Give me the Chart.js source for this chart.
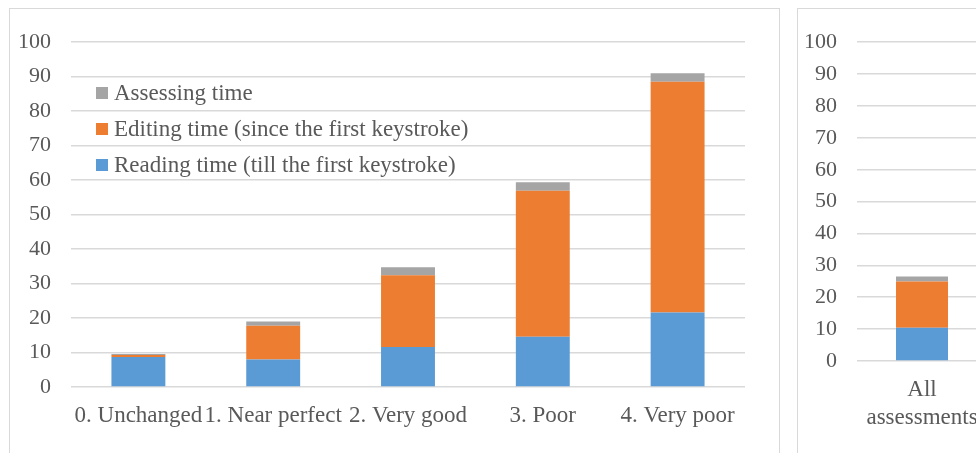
<!DOCTYPE html>
<html>
<head>
<meta charset="utf-8">
<script src="https://cdn.jsdelivr.net/npm/chart.js@4.4.1/dist/chart.umd.min.js"></script>
<style>
  html, body { margin: 0; padding: 0; background: #fff; }
  body { width: 976px; height: 453px; overflow: hidden; position: relative; }
  .frame { position: absolute; border: 1px solid #D9D9D9; background: #fff; }
  .frame canvas { position: absolute; left: 0; top: 0; }
</style>
</head>
<body>
<div class="frame" id="f1" style="left:9px; top:8px; width:769px; height:460px;">
  <canvas id="c1" width="769" height="445" style="width:769px;height:445px;"></canvas>
</div>
<div class="frame" id="f2" style="left:797px; top:8px; width:220px; height:460px;">
  <canvas id="c2" width="220" height="445" style="width:220px;height:445px;"></canvas>
</div>
<script>
// Mean time per sentence (seconds) by quality category
const categories = ['0. Unchanged', '1. Near perfect', '2. Very good', '3. Poor', '4. Very poor'];
const readingTime = [8.7, 8.0, 11.6, 14.6, 21.6];
const editingTime = [0.6, 9.8, 20.8, 42.3, 66.9];
const assessingTime = [0.3, 1.2, 2.3, 2.5, 2.5];

// Overall mean across all assessments
const overallCategories = [['All', 'assessments']];
const overallReading = [10.4];
const overallEditing = [14.5];
const overallAssessing = [1.6];

const seriesLabels = ['Reading time (till the first keystroke)', 'Editing time (since the first keystroke)', 'Assessing time'];
const seriesColors = ['#5B9BD5', '#ED7D31', '#A5A5A5'];

const FONT = "'Liberation Serif', 'Times New Roman', serif";
const TEXT = '#595959';
const GRID = '#D9D9D9';

function datasets(r, e, a) {
  return [r, e, a].map((d, i) => ({
    label: seriesLabels[i],
    data: d,
    backgroundColor: seriesColors[i],
    borderWidth: 0,
    barPercentage: 0.4,
    categoryPercentage: 1.0
  }));
}

// Legend drawn inside the plot area, listed top-down in reverse stack order
const innerLegend = {
  id: 'innerLegend',
  afterDraw(chart, args, opts) {
    if (!opts.show) return;
    const ctx = chart.ctx;
    ctx.save();
    ctx.font = '23px ' + FONT;
    ctx.textBaseline = 'middle';
    ctx.textAlign = 'left';
    const sets = chart.data.datasets.slice().reverse();
    sets.forEach((ds, i) => {
      const y = opts.y + i * opts.rowGap;
      ctx.fillStyle = ds.backgroundColor;
      ctx.fillRect(opts.x, y - 6, 12, 12);
      ctx.fillStyle = TEXT;
      ctx.fillText(ds.label, opts.x + 18, y + 1);
    });
    ctx.restore();
  }
};

function makeOptions(yWidth, xHeight, padRight, legendOpts) {
  return {
    responsive: false,
    animation: false,
    layout: { padding: { top: 31, right: padRight, bottom: 0, left: 0 } },
    plugins: {
      legend: { display: false },
      tooltip: { enabled: false },
      innerLegend: legendOpts
    },
    scales: {
      x: {
        stacked: true,
        grid: { display: false, drawTicks: false },
        border: { display: false },
        ticks: {
          color: TEXT,
          font: { family: FONT, size: 23, lineHeight: 1.22 },
          maxRotation: 0, minRotation: 0, autoSkip: false,
          padding: 15
        },
        afterFit(scale) { scale.height = xHeight; }
      },
      y: {
        stacked: true,
        min: 0, max: 100,
        ticks: {
          stepSize: 10,
          color: TEXT,
          font: { family: FONT, size: 22 },
          padding: 20
        },
        grid: { color: GRID, lineWidth: 1.5, drawTicks: false },
        border: { display: false },
        afterFit(scale) { scale.width = yWidth; }
      }
    }
  };
}

new Chart(document.getElementById('c1'), {
  type: 'bar',
  data: { labels: categories, datasets: datasets(readingTime, editingTime, assessingTime) },
  options: makeOptions(61, 67, 34, { show: true, x: 86, y: 84, rowGap: 36 }),
  plugins: [innerLegend]
});

new Chart(document.getElementById('c2'), {
  type: 'bar',
  data: { labels: overallCategories, datasets: datasets(overallReading, overallEditing, overallAssessing) },
  options: makeOptions(59, 93, 31, { show: false }),
  plugins: [innerLegend]
});
</script>
</body>
</html>
